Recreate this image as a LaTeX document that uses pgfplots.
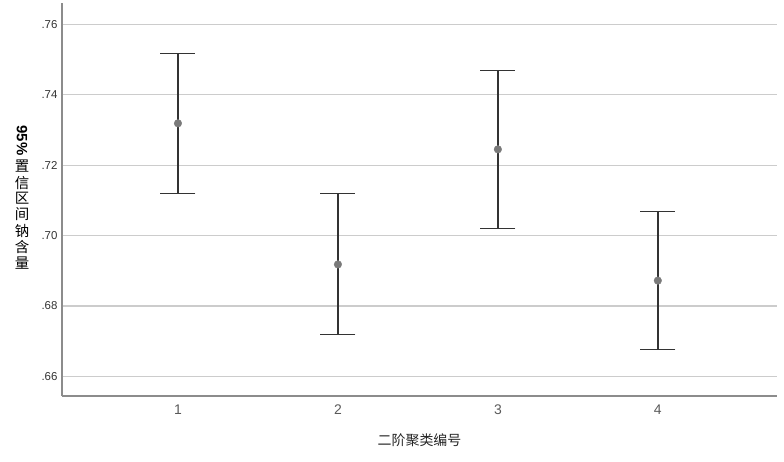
\documentclass[border=0pt]{standalone}
\usepackage{pgfplots}
\pgfplotsset{compat=1.18}
\usepackage{fontspec}
\setmainfont{Liberation Sans}
\newfontfamily\cjk{Noto Sans CJK SC}
\definecolor{gridgray}{HTML}{CCCCCC}
\definecolor{spinegray}{HTML}{8C8C8C}
\definecolor{bargray}{HTML}{333333}
\definecolor{dotgray}{HTML}{7A7A7A}
\begin{document}
\begin{tikzpicture}
\begin{axis}[
    name=ax,
    scale only axis,
    width=715bp, height=393bp,
    xmin=0.275, xmax=4.745,
    ymin=0.6544, ymax=0.7661,
    axis x line*=bottom,
    axis y line*=left,
    axis line style={spinegray, line width=1.3bp, -},
    xtick={1,2,3,4},
    ytick={0.66,0.68,0.70,0.72,0.74,0.76},
    yticklabels={.66,.68,.70,.72,.74,.76},
    major tick length=0pt,
    ymajorgrids,
    grid style={gridgray, line width=1.2bp},
    tick label style={/pgf/number format/assume math mode=true},
    yticklabel style={font=\fontsize{11.5}{13}\selectfont, text=bargray, xshift=-1bp},
    xticklabel style={font=\fontsize{14}{16}\selectfont, text=black!65, yshift=-5bp},
    xlabel={\cjk 二阶聚类编号},
    xlabel style={font=\fontsize{14}{16}\selectfont, text=black!85, yshift=-12bp},
    ylabel={\begin{tabular}{@{}c@{}}\rotatebox[origin=c]{-90}{\fontsize{15}{16}\selectfont\bfseries 95\%}\\\rule{0pt}{16pt}\cjk 置\\\cjk 信\\\cjk 区\\\cjk 间\\\cjk 钠\\\cjk 含\\\cjk 量\end{tabular}},
    ylabel style={rotate=-90, font=\fontsize{14.5}{14.5}\selectfont, text=black, at={(-40bp,0.50)}, anchor=center},
    clip=false,
]
\addplot[
    only marks,
    mark=*,
    mark size=3.8bp,
    mark options={draw=dotgray, fill=dotgray},
    error bars/.cd,
        y dir=both, y explicit,
        error bar style={bargray, line width=1.5bp},
        error mark options={rotate=90, mark size=17.5bp, line width=1.5bp, bargray},
] table[x=x, y=y, y error plus=ep, y error minus=em] {
x  y       ep      em
1  0.7319  0.0199  0.0199
2  0.6918  0.0201  0.0199
3  0.7245  0.0224  0.0225
4  0.6872  0.0196  0.0196
};
\end{axis}
\pgfresetboundingbox
\path[use as bounding box] ([shift={(-62bp,-66bp)}]ax.south west) rectangle ([shift={(7bp,3bp)}]ax.north east);
\end{tikzpicture}
\end{document}
